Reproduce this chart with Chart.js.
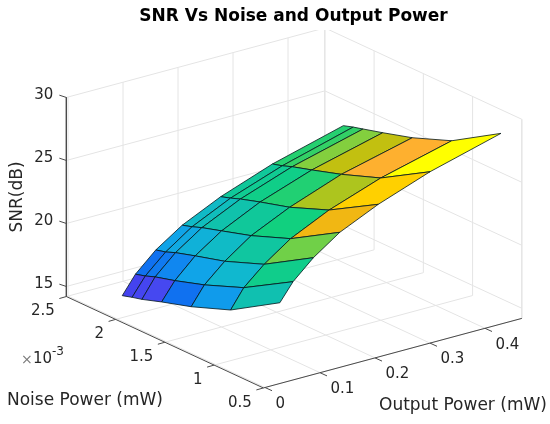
<!DOCTYPE html>
<html>
<head>
<meta charset="utf-8">
<title>SNR Vs Noise and Output Power</title>
<script src="https://cdn.jsdelivr.net/npm/chart.js@4"></script>
<style>
  html, body { margin: 0; padding: 0; background: #fff; }
  #wrap { width: 550px; height: 424px; }
</style>
</head>
<body>
<div id="wrap"><canvas id="surfaceChart"></canvas></div>
<script>
// mesh values
const outputPower = [0.027, 0.051, 0.088, 0.136, 0.206, 0.3, 0.429];
const noisePower = [2.1, 2.0, 1.9, 1.7, 1.4, 1.0, 0.5]; // x 10^-3 mW
const snrAtOutput1 = [15.37, 15.6, 15.8, 16.32, 17.03, 18.22, 20.61];
const snrAtOutput2 = [16.79, 17.01, 17.3, 17.73, 18.48, 19.71, 22.0];
const snrAtOutput3 = [18.28, 18.48, 18.79, 19.26, 19.92, 21.13, 23.47];
const snrAtOutput4 = [19.68, 19.92, 20.21, 20.68, 21.39, 22.6, 24.92];
const snrAtOutput5 = [21.12, 21.37, 21.66, 22.15, 22.82, 24.05, 26.32];
const snrAtOutput6 = [22.61, 22.83, 23.12, 23.59, 24.33, 25.49, 27.8];
const snrAtOutput7 = [24.14, 24.39, 24.6, 25.03, 25.72, 26.93, 29.33];
const snrRows = [snrAtOutput1, snrAtOutput2, snrAtOutput3, snrAtOutput4, snrAtOutput5, snrAtOutput6, snrAtOutput7];

const outputTicks = [0, 0.1, 0.2, 0.3, 0.4];
const noiseTicks = [0.5, 1, 1.5, 2, 2.5];
const snrTicks = [15, 20, 25, 30];

const outputRange = [-0.003, 0.467];
const noiseRange = [0.5, 2.5];
const snrRange = [14.2, 30];

const areaLeft = 37;
const areaTop = 30;
const fontName = "'DejaVu Sans'";

// fixed 3D view, same camera for marks, grid and labels
const project = (output, noise, snr) => ({
  x: 265 + 550 * output - 98.5 * (noise - 0.5),
  y: 387.5 - 148 * output - 45.7 * (noise - 0.5) - 12.6 * (snr - 14.2),
});

// colours sampled from the faces
const colorStops = [
  [0, [53, 42, 200]],
  [0.12, [68, 68, 240]],
  [0.17, [70, 72, 240]],
  [0.22, [16, 112, 240]],
  [0.28, [16, 136, 240]],
  [0.325, [16, 164, 232]],
  [0.41, [16, 184, 208]],
  [0.475, [16, 192, 176]],
  [0.56, [16, 204, 144]],
  [0.62, [16, 208, 128]],
  [0.66, [48, 208, 104]],
  [0.69, [128, 208, 64]],
  [0.74, [192, 192, 16]],
  [0.78, [240, 184, 16]],
  [0.83, [255, 176, 48]],
  [0.89, [255, 208, 0]],
  [1, [255, 255, 0]],
];

const snrMin = Math.min(...snrRows.flat());
const snrMax = Math.max(...snrRows.flat());

const faceColor = (snr) => {
  const t = (snr - snrMin) / (snrMax - snrMin);
  for (let i = 1; i < colorStops.length; i++) {
    if (t <= colorStops[i][0]) {
      const [t0, c0] = colorStops[i - 1];
      const [t1, c1] = colorStops[i];
      const f = (t - t0) / (t1 - t0);
      const rgb = c0.map((c, k) => Math.round(c + (c1[k] - c) * f));
      return `rgb(${rgb.join(",")})`;
    }
  }
  return "rgb(255,255,0)";
};

const lineSet = (points, color, width) => ({
  data: points,
  showLine: true,
  fill: false,
  borderColor: color,
  borderWidth: width,
  pointRadius: 0,
  tension: 0,
});

const datasets = [];

// first dataset ends up on top, so faces go in front to back
for (let r = 0; r < outputPower.length - 1; r++) {
  for (let c = noisePower.length - 2; c >= 0; c--) {
    const corner = (i, j) => project(outputPower[i], noisePower[j], snrRows[i][j]);
    datasets.push({
      data: [corner(r, c), corner(r + 1, c), corner(r + 1, c + 1), corner(r, c + 1), corner(r, c)],
      showLine: true,
      fill: "shape",
      backgroundColor: faceColor(snrRows[r + 1][c + 1]),
      borderColor: "rgba(5,25,30,0.9)",
      borderWidth: 0.9,
      pointRadius: 0,
      tension: 0,
    });
  }
}

// ticks and axis lines
const axisColor = "#4a4a4a";
const [xLo, xHi] = outputRange;
const [nLo, nHi] = noiseRange;
const [zLo, zHi] = snrRange;

const offsetPoint = (p, dx, dy) => ({ x: p.x + dx, y: p.y + dy });

snrTicks.forEach((t) => {
  const p = project(xLo, nHi, t);
  datasets.push(lineSet([p, offsetPoint(p, -7, -2.3)], axisColor, 1));
});
noiseTicks.forEach((t) => {
  const p = project(xLo, t, zLo);
  datasets.push(lineSet([p, offsetPoint(p, -7, 2)], axisColor, 1));
});
outputTicks.forEach((t) => {
  const p = project(t, nLo, zLo);
  datasets.push(lineSet([p, offsetPoint(p, 7, 3.2)], axisColor, 1));
});
datasets.push(lineSet([project(xLo, nHi, zHi), project(xLo, nHi, zLo), project(xLo, nLo, zLo), project(xHi, nLo, zLo)], axisColor, 1));

// grid on floor and the two back walls
const gridColor = "#e4e4e4";
outputTicks.forEach((t) => {
  datasets.push(lineSet([project(t, nLo, zLo), project(t, nHi, zLo), project(t, nHi, zHi)], gridColor, 1));
});
noiseTicks.forEach((t) => {
  datasets.push(lineSet([project(xLo, t, zLo), project(xHi, t, zLo), project(xHi, t, zHi)], gridColor, 1));
});
snrTicks.forEach((t) => {
  datasets.push(lineSet([project(xLo, nHi, t), project(xHi, nHi, t), project(xHi, nLo, t)], gridColor, 1));
});
datasets.push(lineSet([project(xHi, nHi, zLo), project(xHi, nHi, zHi)], gridColor, 1));
datasets.push(lineSet([project(xHi, nLo, zLo), project(xHi, nLo, zHi)], gridColor, 1));

const textColor = "#262626";

const drawText = (ctx, text, x, y, align, font, color) => {
  ctx.font = font;
  ctx.fillStyle = color || textColor;
  ctx.textAlign = align;
  ctx.textBaseline = "middle";
  ctx.fillText(text, x, y + 2);
};

// tick labels follow the projected axes
const axisLabels = {
  id: "axisLabels",
  afterDraw(chart) {
    const { ctx, scales } = chart;
    const px = (p) => ({ x: scales.x.getPixelForValue(p.x), y: scales.y.getPixelForValue(p.y) });
    const tickFont = `15px ${fontName}`;
    const labelFont = `17px ${fontName}`;
    ctx.save();
    snrTicks.forEach((t) => {
      const p = px(project(xLo, nHi, t));
      drawText(ctx, String(t), p.x - 13, p.y - 4, "right", tickFont);
    });
    noiseTicks.forEach((t) => {
      const p = px(project(xLo, t, zLo));
      drawText(ctx, String(t), p.x - 11.5, p.y + 13, "right", tickFont);
    });
    outputTicks.forEach((t) => {
      const p = px(project(t, nLo, zLo));
      drawText(ctx, String(t), p.x + 10.5, p.y + 14.5, "left", tickFont);
    });
    drawText(ctx, "×", 21, 358, "left", `14px ${fontName}`, "#7a7a7a");
    drawText(ctx, "10", 33, 357, "left", tickFont);
    drawText(ctx, "-3", 52, 350, "left", `12px ${fontName}`);
    drawText(ctx, "Noise Power (mW)", 7, 398.5, "left", labelFont);
    drawText(ctx, "Output Power (mW)", 379, 403.5, "left", labelFont);
    ctx.translate(17, 197);
    ctx.rotate(-Math.PI / 2);
    drawText(ctx, "SNR(dB)", 0, -1, "center", labelFont);
    ctx.restore();
  },
};

new Chart(document.querySelector("#surfaceChart"), {
  type: "scatter",
  data: { datasets },
  plugins: [axisLabels],
  options: {
    responsive: true,
    maintainAspectRatio: false,
    animation: false,
    layout: { padding: { left: areaLeft } },
    scales: {
      x: { type: "linear", display: false, min: areaLeft, max: 550 },
      y: { type: "linear", display: false, reverse: true, min: areaTop, max: 424 },
    },
    plugins: {
      legend: { display: false },
      tooltip: { enabled: false },
      title: {
        display: true,
        fullSize: false,
        text: "SNR Vs Noise and Output Power",
        color: "#000",
        font: { family: fontName, size: 17, weight: "bold", lineHeight: 1.2 },
        padding: { top: 6, bottom: 3.6 },
      },
    },
  },
});
</script>
</body>
</html>
